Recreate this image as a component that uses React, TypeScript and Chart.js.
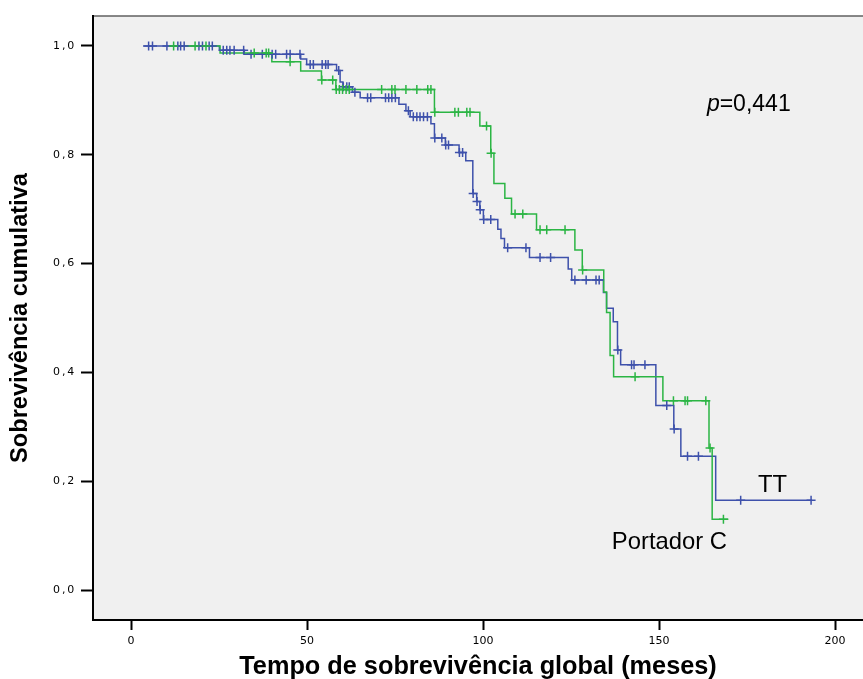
import React, { useEffect, useRef } from 'react';
import { Chart, registerables } from 'chart.js';

Chart.register(...registerables);

// ---------- data ----------
const xTicks = [0, 50, 100, 150, 200];
const yTicks = [0, 0.2, 0.4, 0.6, 0.8, 1.0];
const yTickLabels = ['0,0', '0,2', '0,4', '0,6', '0,8', '1,0'];

// TT (blue): times at which the curve drops, and the survival after the drop
const ttTimes = [3.4, 25.1, 32.2, 48.2, 49.9, 58.4, 59.4, 60.2, 62.9, 65.1, 76.1, 78.1, 79.3, 85.2, 86.2, 89.3, 93.2, 95.1, 97.1, 98.2, 99.1, 100.1, 104.2, 105.1, 106.1, 113.2, 124.2, 125.2, 134.2, 135.1, 137.0, 138.2, 139.1, 149.1, 154.2, 156.2, 166.1, 193.5];
const ttSurvival = [1.0, 0.992, 0.985, 0.976, 0.966, 0.955, 0.934, 0.925, 0.915, 0.905, 0.893, 0.881, 0.870, 0.857, 0.831, 0.818, 0.804, 0.789, 0.729, 0.714, 0.699, 0.681, 0.663, 0.646, 0.629, 0.611, 0.590, 0.570, 0.547, 0.518, 0.493, 0.441, 0.414, 0.339, 0.296, 0.246, 0.165, 0.165];
const ttCensored = [5.0, 6.1, 10.2, 13.3, 14.1, 15.1, 19.3, 20.3, 22.2, 23.1, 26.2, 27.2, 28.1, 29.3, 32.0, 34.1, 37.3, 40.1, 41.1, 44.2, 45.2, 48.0, 50.9, 51.8, 54.3, 55.3, 56.0, 59.0, 60.3, 61.3, 62.0, 63.6, 67.2, 68.1, 72.3, 73.2, 74.1, 75.1, 78.8, 80.2, 81.2, 82.1, 83.1, 84.2, 86.3, 88.3, 89.4, 90.2, 93.3, 94.2, 97.2, 98.3, 99.2, 100.2, 102.2, 107.0, 112.2, 116.2, 119.2, 126.1, 129.3, 132.1, 133.0, 138.3, 142.2, 142.9, 146.0, 152.2, 154.3, 158.1, 161.2, 173.2, 193.2];

// Portador C (green)
const cTimes = [11.0, 25.3, 40.0, 48.2, 54.1, 58.2, 86.2, 99.1, 102.2, 103.1, 106.2, 108.1, 115.2, 126.1, 128.2, 134.3, 135.1, 136.1, 137.1, 151.1, 164.2, 165.1, 169.7];
const cSurvival = [1.0, 0.987, 0.971, 0.954, 0.9375, 0.920, 0.878, 0.853, 0.803, 0.747, 0.720, 0.691, 0.662, 0.625, 0.588, 0.548, 0.510, 0.431, 0.392, 0.348, 0.261, 0.130, 0.130];
const cCensored = [12.1, 18.2, 21.3, 35.0, 38.4, 39.1, 45.2, 54.2, 57.3, 58.3, 59.2, 60.1, 61.1, 62.0, 71.2, 74.1, 75.0, 78.1, 81.2, 84.3, 85.2, 86.3, 92.0, 93.0, 95.4, 96.3, 101.0, 102.3, 109.1, 111.3, 116.2, 118.1, 123.3, 128.3, 143.2, 154.1, 157.4, 158.1, 163.3, 164.5, 168.3];

const seriesNames = ['TT', 'Portador C'];
const pValueText = '0,441';

// annotation anchors (data coordinates: time, survival)
const labelAnchors = [
  [178.1, 0.1796],
  [136.6, 0.0754],
];
const pAnchor = [163.6, 0.8805];

const BLUE = '#3e51ab';
const GREEN = '#2bb544';

function survivalAt(times: number[], surv: number[], t: number) {
  let v = surv[0];
  for (let i = 0; i < times.length; i++) {
    if (times[i] <= t) v = surv[i];
  }
  return v;
}

function stepPoints(times: number[], surv: number[]) {
  return times.map((t, i) => ({ x: t, y: surv[i] }));
}

function censorPoints(censored: number[], times: number[], surv: number[]) {
  return censored.map((t) => ({ x: t, y: survivalAt(times, surv, t) }));
}

const bgPlugin = {
  id: 'bgPlugin',
  beforeDraw(chart: any) {
    const { ctx, chartArea } = chart;
    ctx.save();
    ctx.fillStyle = '#ffffff';
    ctx.fillRect(0, 0, chart.width, chart.height);
    ctx.fillStyle = '#f0f0f0';
    ctx.fillRect(chartArea.left, chartArea.top, chartArea.right - chartArea.left, chartArea.bottom - chartArea.top);
    ctx.strokeStyle = '#606060';
    ctx.lineWidth = 1.5;
    ctx.beginPath();
    ctx.moveTo(chartArea.left, chartArea.top);
    ctx.lineTo(chartArea.right, chartArea.top);
    ctx.stroke();
    ctx.restore();
  },
  afterDraw(chart: any) {
    (chart.ctx as any).letterSpacing = '0px';
  },
};

const textPlugin = {
  id: 'textPlugin',
  afterDatasetsDraw(chart: any) {
    const { ctx, scales } = chart;
    const fam = '"Liberation Sans", Arial, sans-serif';
    ctx.save();
    ctx.fillStyle = '#000';
    ctx.textBaseline = 'alphabetic';
    ctx.textAlign = 'left';
    ctx.font = `23.8px ${fam}`;
    seriesNames.forEach((name, i) => {
      const [t, s] = labelAnchors[i];
      ctx.fillText(name, scales.x.getPixelForValue(t), scales.y.getPixelForValue(s));
    });
    const px = scales.x.getPixelForValue(pAnchor[0]);
    const py = scales.y.getPixelForValue(pAnchor[1]);
    ctx.font = `italic 23px ${fam}`;
    ctx.fillText('p', px, py);
    const w = ctx.measureText('p').width;
    ctx.font = `23px ${fam}`;
    ctx.fillText('=' + pValueText, px + w, py);
    ctx.restore();
    // the y tick labels (drawn after this hook) are letter-spaced
    (ctx as any).letterSpacing = '1.8px';
  },
};

export default function App() {
  const ref = useRef<HTMLCanvasElement | null>(null);

  useEffect(() => {
    if (!ref.current) return;
    const tickFont = { family: '"DejaVu Sans", sans-serif', size: 11 };
    const chart = new Chart(ref.current, {
      type: 'line',
      data: {
        datasets: [
          {
            label: seriesNames[1] + ' censored',
            data: censorPoints(cCensored, cTimes, cSurvival),
            showLine: false,
            pointStyle: 'cross',
            pointRadius: 4.5,
            pointHoverRadius: 4.5,
            pointBorderWidth: 1.5,
            pointBorderColor: GREEN,
            borderColor: GREEN,
            order: 0,
          },
          {
            label: seriesNames[0] + ' censored',
            data: censorPoints(ttCensored, ttTimes, ttSurvival),
            showLine: false,
            pointStyle: 'cross',
            pointRadius: 4.5,
            pointHoverRadius: 4.5,
            pointBorderWidth: 1.5,
            pointBorderColor: BLUE,
            borderColor: BLUE,
            order: 1,
          },
          {
            label: seriesNames[1],
            data: stepPoints(cTimes, cSurvival),
            stepped: true,
            borderColor: GREEN,
            borderWidth: 1.5,
            pointRadius: 0,
            fill: false,
            order: 2,
          },
          {
            label: seriesNames[0],
            data: stepPoints(ttTimes, ttSurvival),
            stepped: true,
            borderColor: BLUE,
            borderWidth: 1.5,
            pointRadius: 0,
            fill: false,
            order: 3,
          },
        ],
      },
      options: {
        responsive: false,
        maintainAspectRatio: false,
        animation: false,
        layout: { autoPadding: false, padding: { top: 16, left: 0, right: 0, bottom: 0 } },
        plugins: {
          legend: { display: false },
          tooltip: { enabled: false },
        },
        scales: {
          x: {
            type: 'linear',
            min: -10.8,
            max: 207.95,
            afterBuildTicks: (s: any) => {
              s.ticks = xTicks.map((v) => ({ value: v }));
            },
            afterFit: (s: any) => {
              s.height = 59;
              s.paddingLeft = 0;
              s.paddingRight = 0;
            },
            grid: {
              drawOnChartArea: false,
              drawTicks: true,
              tickLength: 10,
              tickColor: '#000',
              tickWidth: 2,
              color: '#000',
            },
            border: { display: true, color: '#000', width: 2 },
            ticks: {
              font: tickFont,
              color: '#000',
              padding: 5,
              maxRotation: 0,
              autoSkip: false,
              z: 0,
              callback: (v: any) => String(v),
            },
            title: {
              display: true,
              text: 'Tempo de sobrevivência global (meses)',
              color: '#000',
              font: { family: '"Liberation Sans", Arial, sans-serif', size: 25.3, weight: 'bold', lineHeight: 1 },
              padding: { top: 0, bottom: -1 },
            },
          },
          y: {
            type: 'linear',
            min: -0.0551,
            max: 1.0551,
            afterBuildTicks: (s: any) => {
              s.ticks = yTicks.map((v) => ({ value: v }));
            },
            afterFit: (s: any) => {
              s.width = 93;
              s.paddingTop = 0;
              s.paddingBottom = 0;
            },
            grid: {
              drawOnChartArea: false,
              drawTicks: true,
              tickLength: 12,
              tickColor: '#000',
              tickWidth: 2,
              color: '#000',
            },
            border: { display: true, color: '#000', width: 2 },
            ticks: {
              font: tickFont,
              color: '#000',
              padding: 5,
              autoSkip: false,
              z: 1,
              callback: (v: any) => {
                const i = yTicks.findIndex((t) => Math.abs(t - v) < 1e-9);
                return i >= 0 ? yTickLabels[i] : '';
              },
            },
            title: {
              display: true,
              text: 'Sobrevivência cumulativa',
              color: '#000',
              font: { family: '"Liberation Sans", Arial, sans-serif', size: 23.6, weight: 'bold', lineHeight: 1 },
              padding: { top: 9, bottom: 0 },
            },
          },
        },
      },
      plugins: [bgPlugin, textPlugin],
    } as any);
    return () => chart.destroy();
  }, []);

  return (
    <div style={{ position: 'absolute', left: 0, top: 0, width: 863, height: 679, background: '#fff' }}>
      <canvas ref={ref} width={863} height={679} style={{ display: 'block', width: 863, height: 679 }} />
    </div>
  );
}
